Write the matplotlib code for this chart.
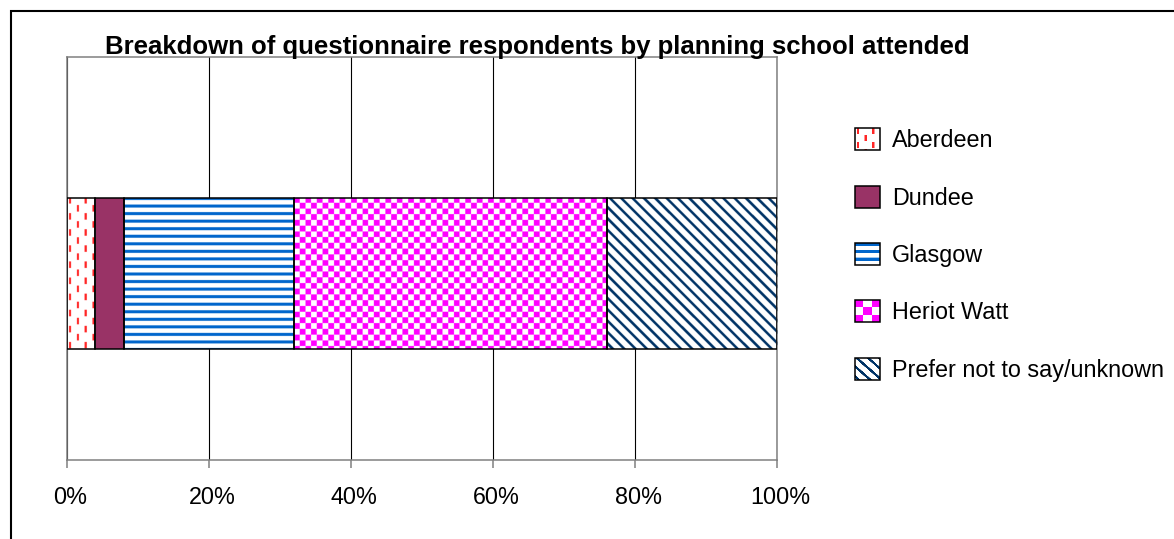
import numpy as np
import matplotlib
matplotlib.use("Agg")
import matplotlib.pyplot as plt
from matplotlib.patches import Rectangle
from matplotlib.legend_handler import HandlerBase
from matplotlib.image import BboxImage
from matplotlib.transforms import Bbox, TransformedBbox, ScaledTranslation

# ---------------- data ----------------
schools = ["Aberdeen", "Dundee", "Glasgow", "Heriot Watt", "Prefer not to say/unknown"]
shares = [4, 4, 24, 44, 24]          # percent of respondents
tick_values = [0, 20, 40, 60, 80, 100]
tick_labels = ["0%", "20%", "40%", "60%", "80%", "100%"]
title_text = "Breakdown of questionnaire respondents by planning school attended"

# ---------------- setup ----------------
W, H, DPI = 1174, 539, 100
plt.rcParams['font.family'] = ['Liberation Sans', 'DejaVu Sans']

fig = plt.figure(figsize=(W / DPI, H / DPI), dpi=DPI)
fig.patch.set_facecolor('white')
ax = fig.add_axes([67 / W, 1 - 460 / H, 710 / W, 403 / H])
ax.set_xlim(0, 100)
YLIM = (-0.463, 0.537)
ax.set_ylim(*YLIM)
BAR_H = 0.375
SS = 4


# ---------------- texture patterns ----------------
def pat_aberdeen(lx, ly, s):
    p = 7.7 * s
    col = np.floor((lx - 3 * s + p / 2) / p)
    dx = lx - 3 * s - col * p
    phase = (ly + (col % 2) * 8 * s) % (16 * s)
    return (np.abs(dx) < 1.1) & (phase < 6.5 * s)


def pat_glasgow(lx, ly, s):
    return (ly % (7.5 * s)) < 3.1 * s


def pat_heriot(lx, ly, s):
    cs = 5.7 * s
    return ((np.floor(lx / cs) + np.floor(ly / cs)) % 2) == 0


def pat_prefer(lx, ly, s):
    return ((lx - ly) % (11.3 * s)) < 3.6 * s


styles = [
    dict(func=pat_aberdeen, color="#FF2626", leg_s=1.0),
    dict(func=None, color="#993366", leg_s=1.0),
    dict(func=pat_glasgow, color="#0066CC", leg_s=1.1),
    dict(func=pat_heriot, color="#FF00FF", leg_s=1.46),
    dict(func=pat_prefer, color="#003366", leg_s=1.0),
]


def make_texture(func, color, w, h, s=1.0, ss=SS):
    nx, ny = max(int(round(w * ss)), 1), max(int(round(h * ss)), 1)
    xs = (np.arange(nx) + 0.5) * (w / nx)
    ys = (np.arange(ny) + 0.5) * (h / ny)
    X, Y = np.meshgrid(xs, ys)
    m = func(X, Y, s).astype(float)
    c = np.array(matplotlib.colors.to_rgb(color))
    img = (1 - m)[..., None] * np.ones(3) + m[..., None] * c
    return np.clip(img, 0, 1)


# ---------------- bars ----------------
n = len(shares)
lefts = np.concatenate([[0], np.cumsum(shares)[:-1]])
bars = ax.barh(np.zeros(n), shares, left=lefts, height=BAR_H,
               color='white', edgecolor='none', zorder=2)
for bar, st in zip(bars, styles):
    if st['func'] is None:
        bar.set_facecolor(st['color'])
        continue
    bb = bar.get_window_extent()
    img = make_texture(st['func'], st['color'], bb.width, bb.height)
    im = ax.imshow(img, extent=(bar.get_x(), bar.get_x() + bar.get_width(),
                                bar.get_y(), bar.get_y() + bar.get_height()),
                   aspect='auto', interpolation='antialiased', origin='upper',
                   zorder=2.5)
    im.set_clip_path(bar)

ax.barh(np.zeros(n), shares, left=lefts, height=BAR_H, fill=False,
        edgecolor='black', linewidth=1.1, zorder=3)

ax.set_xlim(0, 100)
ax.set_ylim(*YLIM)

# ---------------- axes styling ----------------
for sp in ax.spines.values():
    sp.set_color('#808080')
    sp.set_linewidth(1.1)
ax.set_xticks(tick_values)
ax.set_xticklabels(tick_labels)
ax.set_yticks([])
ax.tick_params(axis='x', direction='out', length=5.8, width=1.1, color='#808080',
               pad=13, labelsize=16.8, labelcolor='black')
shift = ScaledTranslation(3 / DPI, 0, fig.dpi_scale_trans)
for lab in ax.get_xticklabels():
    lab.set_transform(lab.get_transform() + shift)
ax.xaxis.grid(True, color='black', linewidth=0.8)
ax.set_axisbelow(True)


# ---------------- legend ----------------
class TextureHandler(HandlerBase):
    def __init__(self, style):
        super().__init__()
        self.style = style

    def create_artists(self, legend, orig_handle, xdescent, ydescent,
                       width, height, fontsize, trans):
        x0, y0 = -xdescent, -ydescent
        arts = []
        st = self.style
        if st['func'] is not None:
            tex = make_texture(st['func'], st['color'], 25, 25, s=st['leg_s'])
            bb = TransformedBbox(Bbox.from_bounds(x0, y0, width, height), trans)
            bim = BboxImage(bb, interpolation='antialiased')
            bim.set_data(tex)
            arts.append(bim)
            rect = Rectangle((x0, y0), width, height, fill=False,
                             edgecolor='black', linewidth=1.1, transform=trans)
        else:
            rect = Rectangle((x0, y0), width, height, facecolor=st['color'],
                             edgecolor='black', linewidth=1.1, transform=trans)
        arts.append(rect)
        return arts


handler_map = {bar: TextureHandler(st) for bar, st in zip(bars, styles)}
fs = 16.8
fig.legend(list(bars), schools, handler_map=handler_map,
           loc='center left', bbox_to_anchor=(855 / W, 1 - 255 / H),
           frameon=False, fontsize=fs, handlelength=25 / (fs * DPI / 72),
           handleheight=25 / (fs * DPI / 72), handletextpad=0.5,
           labelspacing=1.43, borderpad=0, borderaxespad=0)

# ---------------- title & frame ----------------
fig.text(537 / W, 1 - 47 / H, title_text, ha='center', va='center',
         fontsize=18.5, fontweight='bold')

frame = Rectangle((10.5 / W, -0.2), 1.3, 1.2 - 10.5 / H, fill=False,
                  edgecolor='black', linewidth=1.5, transform=fig.transFigure,
                  clip_on=False)
fig.add_artist(frame)

fig.savefig("out.png", dpi=DPI, facecolor='white')
